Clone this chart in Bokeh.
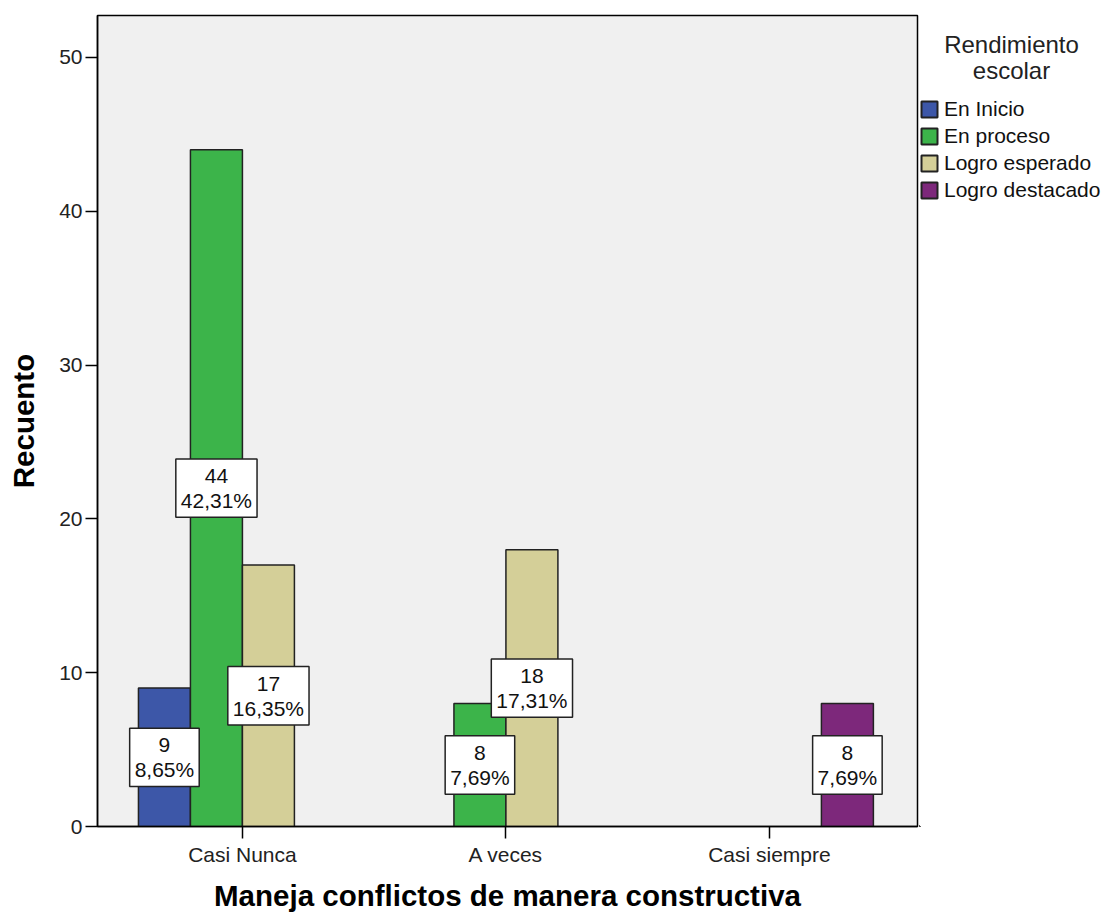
from bokeh.plotting import figure
from bokeh.layouts import row
from bokeh.models import (ColumnDataSource, Range1d, FixedTicker, Legend, LegendItem, Label)
from bokeh.embed import file_html
from bokeh.resources import INLINE
from bokeh.core.properties import value

categories = ["Casi Nunca", "A veces", "Casi siempre"]
series = ["En Inicio", "En proceso", "Logro esperado", "Logro destacado"]
colors = ["#3D57A8", "#3CB44A", "#D4CF98", "#7D287B"]
en_inicio = [9, 0, 0]
en_proceso = [44, 8, 0]
logro_esperado = [17, 18, 0]
logro_destacado = [0, 0, 8]
pct_labels = {
    ("Casi Nunca", "En Inicio"): "8,65%",
    ("Casi Nunca", "En proceso"): "42,31%",
    ("Casi Nunca", "Logro esperado"): "16,35%",
    ("A veces", "En proceso"): "7,69%",
    ("A veces", "Logro esperado"): "17,31%",
    ("Casi siempre", "Logro destacado"): "7,69%",
}
y_ticks = [0, 10, 20, 30, 40, 50]
legend_title = ["Rendimiento", "escolar"]

values = [en_inicio, en_proceso, logro_esperado, logro_destacado]

FONT = "Liberation Sans"
bar_w = 0.1973
H = 914
TOP, BOTTOM = 15, 88
FRAME_H = H - TOP - BOTTOM

main = figure(width=919, height=H, output_backend="svg", toolbar_location=None,
              x_range=Range1d(-0.55, 2.562), y_range=Range1d(0, 52.73))
main.min_border_left = 97
main.min_border_top = TOP
main.min_border_bottom = BOTTOM
main.min_border_right = 2
main.background_fill_color = "#F0F0F0"
main.border_fill_color = "white"
main.outline_line_color = "black"
main.outline_line_width = 1.5
main.grid.visible = False

leg = figure(width=182, height=H, output_backend="svg", toolbar_location=None,
             x_range=Range1d(100, 101), y_range=Range1d(100, 101),
             x_axis_type=None, y_axis_type=None)
leg.min_border_left = 0
leg.min_border_right = 0
leg.min_border_top = TOP
leg.min_border_bottom = BOTTOM
leg.outline_line_color = None
leg.background_fill_color = "white"
leg.border_fill_color = "white"
leg.grid.visible = False

items = []
lx, ly, lt = [], [], []
for si, (name, vals, col) in enumerate(zip(series, values, colors)):
    off = (si - 1.5) * bar_w
    xs = [ci + off for ci, v in enumerate(vals) if v > 0]
    ys = [v for v in vals if v > 0]
    src = ColumnDataSource(dict(x=xs, top=ys))
    main.vbar(x="x", top="top", width=bar_w, bottom=0, source=src,
              fill_color=col, line_color="#222222", line_width=1.5)
    # same data in the legend panel (outside its visible range), used for swatches
    rl = leg.vbar(x="x", top="top", width=bar_w, bottom=0, source=src,
                  fill_color=col, line_color="#222222", line_width=2)
    items.append(LegendItem(label=name, renderers=[rl]))
    for ci, v in enumerate(vals):
        if v > 0:
            lx.append(ci + off)
            ly.append(v / 2)
            lt.append(f"{v}\n{pct_labels[(categories[ci], name)]}")

lsrc = ColumnDataSource(dict(x=lx, y=ly, text=lt))
main.text(x="x", y="y", text="text", source=lsrc, text_align="center",
          text_baseline="middle", text_font=value(FONT), text_font_size="21px",
          text_color="#111111", text_line_height=1.1,
          background_fill_color="white", border_line_color="#222222",
          border_line_width=1.5, padding=5)

main.xaxis.ticker = FixedTicker(ticks=[0, 1, 2])
main.xaxis.major_label_overrides = {0: categories[0], 1: categories[1], 2: categories[2]}
main.yaxis.ticker = FixedTicker(ticks=y_ticks)
for ax in (main.xaxis, main.yaxis):
    ax.axis_line_color = "black"
    ax.axis_line_width = 1.5
    ax.major_tick_line_color = "black"
    ax.major_tick_line_width = 1.5
    ax.major_tick_out = 12
    ax.major_tick_in = 0
    ax.minor_tick_line_color = None
    ax.major_label_text_font = FONT
    ax.major_label_text_font_size = "21px"
    ax.major_label_text_color = "#222222"
    ax.axis_label_text_font = FONT
    ax.axis_label_text_font_size = "29.5px"
    ax.axis_label_text_font_style = "bold"
    ax.axis_label_text_color = "black"
main.xaxis.axis_label = "Maneja conflictos de manera constructiva"
main.yaxis.axis_label = "Recuento"
main.xaxis.major_label_standoff = 4
main.yaxis.major_label_standoff = 3
main.xaxis.axis_label_standoff = 10
main.yaxis.axis_label_standoff = 16

legend = Legend(items=items, location=(0, FRAME_H - 187), orientation="vertical",
                background_fill_alpha=0, border_line_color=None,
                label_text_font=FONT, label_text_font_size="21px",
                label_text_color="#111111",
                glyph_width=20, glyph_height=20, label_standoff=5,
                spacing=3, padding=0, margin=0, label_height=21)
leg.add_layout(legend, "center")

for txt, yy in zip(legend_title, (FRAME_H - 29, FRAME_H - 55)):
    leg.add_layout(Label(x=92, y=yy, x_units="screen", y_units="screen", text=txt,
                         text_align="center", text_baseline="middle",
                         text_font=FONT, text_font_size="24px", text_color="#222222"))

p = row(main, leg, spacing=0)
open("out.html", "w").write(file_html(p, INLINE))
